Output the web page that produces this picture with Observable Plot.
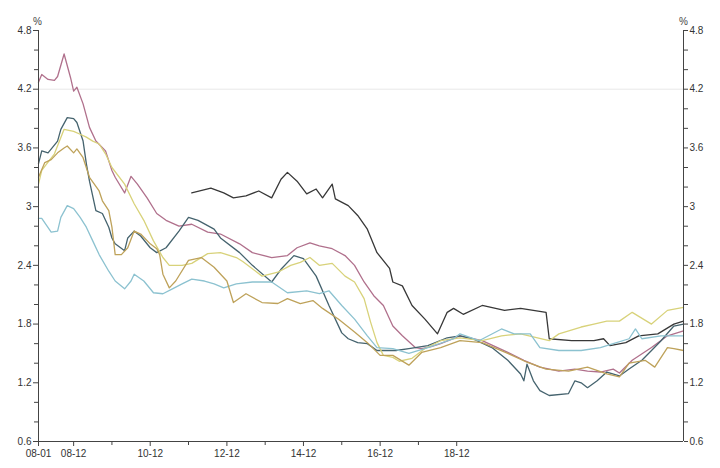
<!DOCTYPE html>
<html>
<head>
<meta charset="utf-8">
<script src="https://cdn.jsdelivr.net/npm/d3@7"></script>
<script src="https://cdn.jsdelivr.net/npm/@observablehq/plot@0.6"></script>
<style>
  html, body { margin: 0; padding: 0; background: #fff; }
  #chart svg { display: block; }
</style>
</head>
<body>
<div id="chart"></div>
<script>
// ---- Data (monthly points, %) ----
const seriesNames = ["Series 1", "Series 2", "Series 3", "Series 4", "Series 5", "Series 6"];
const seriesColors = ["#b0708c", "#45636e", "#383838", "#d8d27a", "#8cc2d0", "#bea25a"];

const series1 = [
  ["2008-01",4.27],["2008-02",4.35],["2008-04",4.30],["2008-06",4.29],["2008-07",4.33],["2008-09",4.56],
  ["2008-11",4.32],["2008-12",4.18],["2009-01",4.22],["2009-03",4.05],["2009-05",3.81],["2009-07",3.67],
  ["2009-10",3.57],["2009-12",3.37],["2010-01",3.30],["2010-04",3.14],["2010-06",3.31],["2010-08",3.23],
  ["2010-11",3.09],["2011-02",2.93],["2011-05",2.86],["2011-09",2.80],["2012-01",2.82],["2012-06",2.74],
  ["2012-10",2.72],["2013-04",2.62],["2013-08",2.53],["2014-02",2.48],["2014-07",2.50],["2014-10",2.58],
  ["2015-02",2.63],["2015-05",2.60],["2015-09",2.57],["2016-01",2.50],["2016-04",2.40],["2016-07",2.23],
  ["2016-10",2.09],["2017-01",1.99],["2017-04",1.78],["2017-07",1.68],["2017-11",1.56],["2018-01",1.55],
  ["2018-04",1.57],["2018-07",1.60],["2019-01",1.68],["2019-08",1.63],["2020-04",1.51],["2020-09",1.43],
  ["2021-02",1.36],["2021-08",1.32],["2022-01",1.34],["2022-05",1.32],["2022-09",1.31],["2023-01",1.34],
  ["2023-03",1.30],["2023-07",1.43],["2024-01",1.56],["2024-06",1.68],["2024-11",1.73]
];

const series2 = [
  ["2008-01",3.44],["2008-02",3.57],["2008-04",3.55],["2008-07",3.67],["2008-08",3.79],["2008-10",3.91],
  ["2008-12",3.90],["2009-01",3.86],["2009-03",3.67],["2009-04",3.44],["2009-05",3.26],["2009-07",2.96],
  ["2009-09",2.93],["2009-11",2.79],["2009-12",2.68],["2010-01",2.62],["2010-04",2.55],["2010-05",2.68],
  ["2010-07",2.75],["2010-09",2.70],["2010-12",2.58],["2011-02",2.53],["2011-05",2.58],["2011-09",2.75],
  ["2011-12",2.89],["2012-03",2.86],["2012-08",2.77],["2012-10",2.68],["2013-04",2.53],["2013-08",2.40],
  ["2014-02",2.23],["2014-05",2.36],["2014-09",2.50],["2014-12",2.47],["2015-04",2.29],["2015-08",1.99],
  ["2015-12",1.71],["2016-02",1.65],["2016-05",1.61],["2016-08",1.60],["2016-11",1.53],["2017-05",1.53],
  ["2017-09",1.55],["2018-03",1.58],["2018-09",1.66],["2019-01",1.68],["2019-05",1.65],["2019-11",1.56],
  ["2020-04",1.43],["2020-08",1.29],["2020-09",1.22],["2020-10",1.39],["2020-12",1.22],["2021-02",1.12],
  ["2021-05",1.07],["2021-11",1.09],["2022-01",1.22],["2022-03",1.20],["2022-05",1.15],["2022-08",1.22],
  ["2022-11",1.31],["2023-03",1.27],["2023-06",1.34],["2023-10",1.43],["2024-01",1.53],["2024-04",1.63],
  ["2024-08",1.78],["2024-11",1.80]
];

const series3 = [
  ["2012-01",3.14],["2012-07",3.19],["2012-11",3.14],["2013-02",3.09],["2013-06",3.11],["2013-10",3.16],
  ["2014-02",3.09],["2014-05",3.28],["2014-07",3.35],["2014-10",3.26],["2015-01",3.13],["2015-04",3.18],
  ["2015-06",3.09],["2015-09",3.23],["2015-10",3.08],["2016-02",3.01],["2016-05",2.91],["2016-08",2.77],
  ["2016-11",2.53],["2017-03",2.37],["2017-04",2.23],["2017-07",2.19],["2017-10",1.99],["2018-02",1.85],
  ["2018-06",1.70],["2018-09",1.92],["2018-11",1.96],["2019-02",1.90],["2019-08",1.99],["2020-03",1.94],
  ["2020-08",1.96],["2021-04",1.92],["2021-05",1.65],["2021-12",1.63],["2022-07",1.63],["2022-10",1.65],
  ["2022-12",1.58],["2023-05",1.61],["2023-09",1.68],["2024-03",1.70],["2024-08",1.80],["2024-11",1.83]
];

const series4 = [
  ["2008-01",3.23],["2008-02",3.37],["2008-06",3.54],["2008-09",3.79],["2008-12",3.77],["2009-02",3.74],
  ["2009-04",3.71],["2009-06",3.67],["2009-08",3.64],["2009-10",3.54],["2009-12",3.40],["2010-04",3.23],
  ["2010-07",3.03],["2010-10",2.86],["2011-01",2.65],["2011-04",2.48],["2011-06",2.40],["2011-10",2.40],
  ["2012-01",2.42],["2012-06",2.52],["2012-10",2.53],["2013-03",2.48],["2013-05",2.44],["2013-11",2.29],
  ["2014-04",2.33],["2014-08",2.40],["2014-11",2.43],["2015-02",2.48],["2015-05",2.40],["2015-09",2.42],
  ["2016-01",2.29],["2016-04",2.23],["2016-07",2.06],["2016-09",1.82],["2016-11",1.61],["2017-01",1.48],
  ["2017-04",1.46],["2017-06",1.42],["2017-10",1.45],["2018-02",1.55],["2018-07",1.63],["2019-01",1.66],
  ["2019-08",1.63],["2020-02",1.68],["2020-08",1.70],["2021-05",1.63],["2021-08",1.70],["2022-03",1.77],
  ["2022-07",1.80],["2022-11",1.83],["2023-03",1.83],["2023-07",1.92],["2024-01",1.80],["2024-06",1.94],
  ["2024-11",1.97]
];

const series5 = [
  ["2008-01",2.88],["2008-02",2.88],["2008-05",2.74],["2008-07",2.75],["2008-08",2.89],["2008-10",3.01],
  ["2008-12",2.98],["2009-02",2.89],["2009-04",2.79],["2009-06",2.65],["2009-08",2.51],["2009-11",2.34],
  ["2010-01",2.24],["2010-04",2.16],["2010-06",2.24],["2010-07",2.31],["2010-10",2.24],["2011-01",2.12],
  ["2011-04",2.11],["2011-07",2.16],["2011-10",2.21],["2012-01",2.26],["2012-05",2.24],["2012-08",2.21],
  ["2012-11",2.17],["2013-03",2.21],["2013-08",2.23],["2014-02",2.23],["2014-07",2.12],["2015-01",2.14],
  ["2015-05",2.11],["2015-08",2.14],["2015-12",1.99],["2016-04",1.85],["2016-08",1.68],["2016-11",1.56],
  ["2017-04",1.55],["2017-09",1.50],["2018-03",1.56],["2018-11",1.65],["2019-01",1.70],["2019-07",1.63],
  ["2020-02",1.75],["2020-06",1.70],["2020-11",1.70],["2021-02",1.56],["2021-08",1.53],["2022-03",1.53],
  ["2022-09",1.56],["2023-01",1.60],["2023-06",1.65],["2023-08",1.75],["2023-10",1.65],["2024-04",1.68],
  ["2024-11",1.68]
];

const series6 = [
  ["2008-01",3.30],["2008-03",3.45],["2008-05",3.48],["2008-07",3.55],["2008-09",3.60],["2008-10",3.62],
  ["2008-12",3.55],["2009-01",3.59],["2009-03",3.50],["2009-05",3.30],["2009-08",3.16],["2009-09",3.06],
  ["2009-11",2.96],["2009-12",2.79],["2010-01",2.51],["2010-03",2.51],["2010-05",2.58],["2010-07",2.75],
  ["2010-09",2.72],["2010-12",2.62],["2011-02",2.57],["2011-03",2.51],["2011-04",2.31],["2011-06",2.17],
  ["2011-08",2.24],["2011-12",2.45],["2012-04",2.48],["2012-08",2.38],["2012-12",2.24],["2013-02",2.02],
  ["2013-06",2.11],["2013-11",2.02],["2014-04",2.01],["2014-07",2.06],["2014-11",2.01],["2015-03",2.04],
  ["2015-06",1.96],["2015-11",1.85],["2016-04",1.72],["2016-08",1.61],["2016-12",1.48],["2017-04",1.48],
  ["2017-09",1.38],["2018-01",1.51],["2018-07",1.56],["2019-01",1.63],["2019-08",1.61],["2020-04",1.50],
  ["2020-10",1.41],["2021-04",1.34],["2021-11",1.32],["2022-05",1.36],["2022-11",1.29],["2023-03",1.26],
  ["2023-06",1.40],["2023-11",1.43],["2024-02",1.36],["2024-06",1.56],["2024-08",1.55],["2024-11",1.53]
];

// ---- Axis ticks ----
const xStart = "2008-01", xEnd = "2024-11";
const xTickDates  = ["2008-01","2008-12","2010-12","2012-12","2014-12","2016-12","2018-12"];
const xTickLabels = ["08-01","08-12","10-12","12-12","14-12","16-12","18-12"];
const xMinorDates = ["2009-12","2011-12","2013-12","2015-12","2017-12"];
const yTicks = [0.6, 1.2, 1.8, 2.4, 3, 3.6, 4.2, 4.8];
const yMinorTicks = [0.8, 1.0, 1.4, 1.6, 2.0, 2.2, 2.6, 2.8, 3.2, 3.4, 3.8, 4.0, 4.4, 4.6];
const unitLabel = "%";

// ---- Build table ----
const parse = d3.utcParse("%Y-%m");
const allSeries = [series1, series2, series3, series4, series5, series6];
const rows = [];
allSeries.forEach((s, i) => s.forEach(([d, v]) => rows.push({series: seriesNames[i], date: parse(d), value: v})));
const xDomain = [parse(xStart), parse(xEnd)];
const xTicks = xTickDates.map(parse);
const xMinor = xMinorDates.map(parse);
const labelOf = new Map(xTickDates.map((d, i) => [+parse(d), xTickLabels[i]]));
const fmtY = d => String(+(+d).toFixed(1));
const axisColor = "#444";

const chart = Plot.plot({
  width: 720,
  height: 468,
  marginLeft: 38,
  marginRight: 37,
  marginTop: 30,
  marginBottom: 27,
  style: {fontFamily: "'Liberation Sans', Arial, sans-serif", fontSize: "10px", color: "#333", background: "#fff"},
  x: {type: "utc", domain: xDomain, axis: null},
  y: {domain: [0.6, 4.8], axis: null},
  color: {type: "ordinal", domain: seriesNames, range: seriesColors},
  marks: [
    Plot.ruleY([4.2], {stroke: "#e8e8e8", strokeWidth: 1}),
    Plot.lineY(rows, {x: "date", y: "value", z: "series", stroke: "series", strokeWidth: 1.3, curve: "linear"}),
    Plot.ruleX([xDomain[0]], {stroke: axisColor}),
    Plot.ruleX([xDomain[1]], {stroke: axisColor}),
    Plot.ruleY([0.6], {stroke: axisColor}),
    Plot.axisY({anchor: "left", label: null, ticks: yTicks, tickFormat: fmtY, tickSize: 5, tickPadding: 2, stroke: axisColor}),
    Plot.axisY({anchor: "left", label: null, ticks: yMinorTicks, tickFormat: () => "", tickSize: 4, stroke: axisColor}),
    Plot.axisY({anchor: "right", label: null, ticks: yTicks, tickFormat: fmtY, tickSize: 4, tickPadding: 2, stroke: axisColor}),
    Plot.axisY({anchor: "right", label: null, ticks: yMinorTicks, tickFormat: () => "", tickSize: 4, stroke: axisColor}),
    Plot.axisX({anchor: "bottom", label: null, ticks: xTicks, tickFormat: d => labelOf.get(+d), tickSize: 5, tickPadding: 3, stroke: axisColor}),
    Plot.axisX({anchor: "bottom", label: null, ticks: xMinor, tickFormat: () => "", tickSize: 4, stroke: axisColor}),
    Plot.text([unitLabel], {frameAnchor: "top-left", textAnchor: "middle", dx: -1, dy: -13, fill: "#444"}),
    Plot.text([unitLabel], {frameAnchor: "top-right", textAnchor: "middle", dy: -13, fill: "#444"})
  ]
});
document.getElementById("chart").appendChild(chart);
</script>
</body>
</html>
